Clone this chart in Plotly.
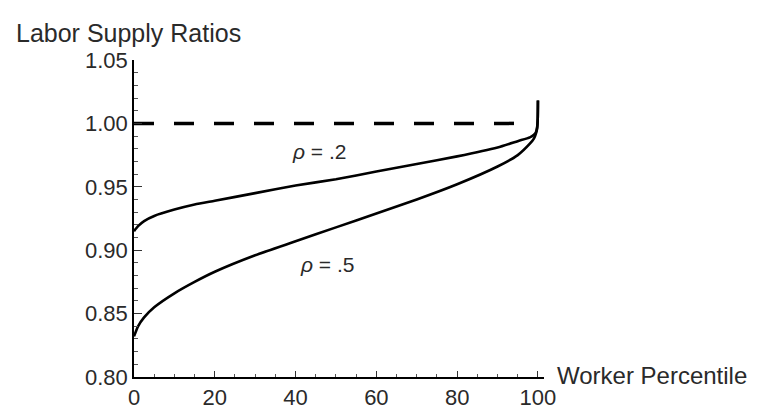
import plotly.graph_objects as go

# worker percentile grid
percentile = [0, 1, 2.5, 5, 10, 15, 20, 30, 40, 50, 60, 70, 80, 90, 95, 98, 99, 99.5, 99.8, 99.95, 100]

# labor supply ratios
ratio_rho_02 = [0.915, 0.919, 0.923, 0.927, 0.932, 0.936, 0.939, 0.945, 0.951, 0.956, 0.962,
                0.968, 0.974, 0.981, 0.986, 0.989, 0.991, 0.993, 0.997, 1.004, 1.018]
ratio_rho_05 = [0.832, 0.840, 0.847, 0.855, 0.866, 0.875, 0.883, 0.896, 0.907, 0.918, 0.929,
                0.940, 0.952, 0.966, 0.975, 0.984, 0.988, 0.992, 0.996, 1.004, 1.018]

# reference level (dashed)
ref_x = [0, 97]
ref_y = [1.0, 1.0]

x_ticks = [0, 20, 40, 60, 80, 100]
y_ticks = [0.80, 0.85, 0.90, 0.95, 1.00, 1.05]
y_tick_text = ["0.80", "0.85", "0.90", "0.95", "1.00", "1.05"]

INK = "#2a2a2a"
FONT = "Liberation Sans, Arial, sans-serif"

fig = go.Figure()
fig.add_trace(go.Scatter(x=ref_x, y=ref_y, mode="lines",
                         line=dict(color="black", width=3.5, dash="20px,20px")))
fig.add_trace(go.Scatter(x=percentile, y=ratio_rho_02, mode="lines",
                         line=dict(color="black", width=2.6, shape="spline", smoothing=0.6)))
fig.add_trace(go.Scatter(x=percentile, y=ratio_rho_05, mode="lines",
                         line=dict(color="black", width=2.6, shape="spline", smoothing=0.6)))

fig.add_annotation(x=45.8, y=0.978, text="<i>ρ</i> = .2", showarrow=False,
                   font=dict(size=21, color=INK, family=FONT))
fig.add_annotation(x=47.8, y=0.889, text="<i>ρ</i> = .5", showarrow=False,
                   font=dict(size=21, color=INK, family=FONT))

fig.add_annotation(xref="paper", yref="paper", x=0, y=1, xanchor="left", yanchor="middle",
                   xshift=-120, yshift=27, text="Labor Supply Ratios", showarrow=False,
                   font=dict(size=25, color=INK, family=FONT))
fig.add_annotation(xref="paper", yref="paper", x=1, y=0, xanchor="left", yanchor="middle",
                   xshift=11, yshift=2, text="Worker Percentile", showarrow=False,
                   font=dict(size=24, color=INK, family=FONT))

fig.update_layout(
    width=759, height=414,
    margin=dict(l=126, r=223, t=52, b=32),
    paper_bgcolor="white", plot_bgcolor="white",
    showlegend=False,
    font=dict(family=FONT, color=INK, size=22),
)
fig.update_xaxes(
    range=[0, 101.5], tickvals=x_ticks, showgrid=False, zeroline=False,
    showline=True, linecolor="black", linewidth=1.6,
    ticks="inside", ticklen=6, tickwidth=1.2, tickcolor="#333",
    minor=dict(dtick=5, ticks="inside", ticklen=3, tickwidth=1, tickcolor="#555"),
    tickfont=dict(size=22, color=INK),
)
fig.update_yaxes(
    range=[0.80, 1.05], tickvals=y_ticks, ticktext=y_tick_text, showgrid=False, zeroline=False,
    showline=True, linecolor="black", linewidth=1.6,
    ticks="inside", ticklen=8, tickwidth=1.2, tickcolor="#333",
    minor=dict(dtick=0.01, ticks="inside", ticklen=4, tickwidth=1, tickcolor="#555"),
    tickfont=dict(size=22, color=INK),
)

fig.write_html("out.html")
